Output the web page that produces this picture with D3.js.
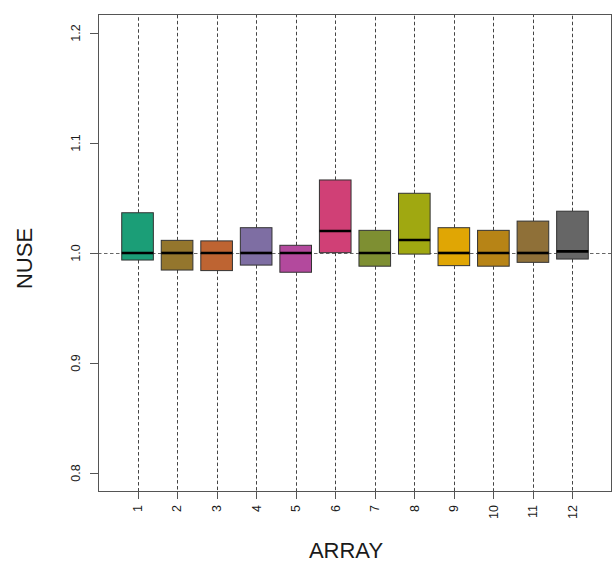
<!DOCTYPE html>
<html>
<head>
<meta charset="utf-8">
<script src="https://cdn.jsdelivr.net/npm/d3@7"></script>
<style>
  body { margin: 0; background: #fff; }
  text { font-family: "Liberation Sans", Arial, sans-serif; fill: #1a1a1a; }
  .frame { fill: none; stroke: #555; stroke-width: 1; }
  .tick-line { stroke: #555; stroke-width: 1; }
  .whisker { stroke: #444; stroke-width: 1; stroke-dasharray: 3.5,2.5; }
  .ref-line { stroke: #666; stroke-width: 1; stroke-dasharray: 3.5,2.5; }
  .box { stroke: #333; stroke-width: 1; }
  .median { stroke: #000; stroke-width: 2.6; }
</style>
</head>
<body>
<div id="vis"></div>
<script>

var arrays = ["1","2","3","4","5","6","7","8","9","10","11","12"];
var q1     = [0.9936, 0.9845, 0.9840, 0.9890, 0.9825, 1.0003, 0.9880, 0.9990, 0.9885, 0.9880, 0.9915, 0.9945];
var median = [1.0000, 1.0000, 1.0000, 1.0000, 1.0000, 1.0200, 1.0000, 1.0118, 1.0000, 1.0000, 1.0000, 1.0015];
var q3     = [1.0366, 1.0115, 1.0110, 1.0230, 1.0070, 1.0664, 1.0206, 1.0543, 1.0230, 1.0206, 1.0290, 1.0380];
var whiskerLo = [0.70, 0.70, 0.70, 0.70, 0.70, 0.70, 0.70, 0.70, 0.70, 0.70, 0.70, 0.70];
var whiskerHi = [1.30, 1.30, 1.30, 1.30, 1.30, 1.30, 1.30, 1.30, 1.30, 1.30, 1.30, 1.30];
var yTicks = [0.8, 0.9, 1.0, 1.1, 1.2];
var yTickLabels = ["0.8", "0.9", "1.0", "1.1", "1.2"];
var refValue = 1.0;
var palette = ["#1B9E77","#94762D","#BE6432","#7E6EA3","#B3499D","#D04076",
               "#7E8F32","#A0A811","#E0A604","#B78416","#8F7038","#666666"];

var width = 613, height = 564;
var plot = {left: 98, right: 612, top: 14, bottom: 491};
var boxWidth = 0.8;

var data = arrays.map(function(a, i) {
  return {id: a, pos: i + 1, q1: q1[i], med: median[i], q3: q3[i],
          lo: whiskerLo[i], hi: whiskerHi[i], color: palette[i]};
});

var x = d3.scaleLinear().domain([0, arrays.length + 1]).range([plot.left, plot.right]);
var y = d3.scaleLinear().domain([0.7836, 1.2173]).range([plot.bottom, plot.top]);

var svg = d3.select("#vis").append("svg")
  .attr("width", width)
  .attr("height", height);

svg.append("defs").append("clipPath")
  .attr("id", "plot-clip")
  .append("rect")
  .attr("x", plot.left)
  .attr("y", plot.top)
  .attr("width", plot.right - plot.left)
  .attr("height", plot.bottom - plot.top);

var g = svg.append("g").attr("clip-path", "url(#plot-clip)");

// reference line at 1
g.append("line")
  .attr("class", "ref-line")
  .attr("x1", plot.left)
  .attr("x2", plot.right)
  .attr("y1", Math.round(y(refValue)) + 0.5)
  .attr("y2", Math.round(y(refValue)) + 0.5);

// whiskers (dashed, run out of the plot)
g.selectAll(".whisker-lo").data(data).enter()
  .append("line")
  .attr("class", "whisker")
  .attr("x1", function(d) { return Math.round(x(d.pos)) + 0.5; })
  .attr("x2", function(d) { return Math.round(x(d.pos)) + 0.5; })
  .attr("y1", function(d) { return y(d.q1); })
  .attr("y2", function(d) { return y(d.lo); });

g.selectAll(".whisker-hi").data(data).enter()
  .append("line")
  .attr("class", "whisker")
  .attr("x1", function(d) { return Math.round(x(d.pos)) + 0.5; })
  .attr("x2", function(d) { return Math.round(x(d.pos)) + 0.5; })
  .attr("y1", function(d) { return y(d.q3); })
  .attr("y2", function(d) { return y(d.hi); });

g.selectAll(".box").data(data).enter()
  .append("rect")
  .attr("class", "box")
  .attr("x", function(d) { return x(d.pos - boxWidth / 2); })
  .attr("y", function(d) { return y(d.q3); })
  .attr("width", function(d) { return x(d.pos + boxWidth / 2) - x(d.pos - boxWidth / 2); })
  .attr("height", function(d) { return y(d.q1) - y(d.q3); })
  .attr("fill", function(d) { return d.color; });

g.selectAll(".median").data(data).enter()
  .append("line")
  .attr("class", "median")
  .attr("x1", function(d) { return x(d.pos - boxWidth / 2); })
  .attr("x2", function(d) { return x(d.pos + boxWidth / 2); })
  .attr("y1", function(d) { return y(d.med); })
  .attr("y2", function(d) { return y(d.med); });

// frame
svg.append("rect")
  .attr("class", "frame")
  .attr("x", plot.left + 0.5)
  .attr("y", plot.top + 0.5)
  .attr("width", plot.right - plot.left - 1)
  .attr("height", plot.bottom - plot.top);

// y axis
var yAxis = svg.append("g");
yAxis.selectAll(".ytick").data(yTicks).enter()
  .append("line")
  .attr("class", "tick-line")
  .attr("x1", plot.left - 8)
  .attr("x2", plot.left)
  .attr("y1", function(d) { return Math.round(y(d)) + 0.5; })
  .attr("y2", function(d) { return Math.round(y(d)) + 0.5; });

yAxis.selectAll(".ylabel").data(yTicks).enter()
  .append("text")
  .attr("text-anchor", "middle")
  .attr("font-size", 12.5)
  .attr("transform", function(d) { return "translate(80," + y(d) + ") rotate(-90)"; })
  .text(function(d, i) { return yTickLabels[i]; });

// x axis
var xAxis = svg.append("g");
xAxis.selectAll(".xtick").data(data).enter()
  .append("line")
  .attr("class", "tick-line")
  .attr("x1", function(d) { return Math.round(x(d.pos)) + 0.5; })
  .attr("x2", function(d) { return Math.round(x(d.pos)) + 0.5; })
  .attr("y1", plot.bottom)
  .attr("y2", plot.bottom + 8);

xAxis.selectAll(".xlabel").data(data).enter()
  .append("text")
  .attr("text-anchor", "end")
  .attr("font-size", 12.5)
  .attr("dy", "0.35em")
  .attr("transform", function(d) { return "translate(" + x(d.pos) + ",505) rotate(-90)"; })
  .text(function(d) { return d.id; });

// axis titles
svg.append("text")
  .attr("text-anchor", "middle")
  .attr("font-size", 22)
  .attr("transform", "translate(32,258.5) rotate(-90)")
  .text("NUSE");

svg.append("text")
  .attr("text-anchor", "middle")
  .attr("font-size", 22)
  .attr("x", 346)
  .attr("y", 558)
  .text("ARRAY");

</script>
</body>
</html>
